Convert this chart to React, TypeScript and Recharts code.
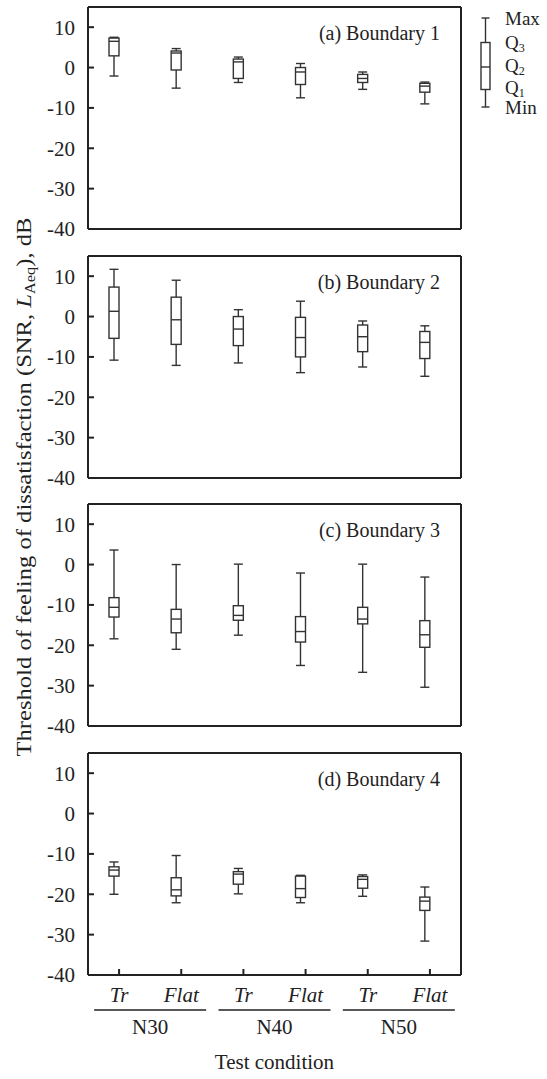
import { ComposedChart, Bar, XAxis, YAxis } from 'recharts'

const conditions = ['Tr', 'Flat', 'Tr', 'Flat', 'Tr', 'Flat']
const groups = ['N30', 'N30', 'N40', 'N40', 'N50', 'N50']
const yTicks = [-40, -30, -20, -10, 0, 10]

// each row: [min, Q1, Q2, Q3, max] in dB, one row per condition
const boundary1 = [
  [-2.1, 2.9, 6.5, 7.3, 7.5],
  [-5.1, -0.6, 3.6, 4.1, 4.7],
  [-3.7, -2.7, 1.4, 2.1, 2.6],
  [-7.5, -4.2, -1.1, 0, 1.0],
  [-5.4, -3.7, -2.7, -1.7, -1.1],
  [-9.0, -6.1, -4.6, -3.9, -3.6],
]
const boundary2 = [
  [-10.8, -5.4, 1.3, 7.3, 11.7],
  [-12.1, -6.9, -0.8, 4.8, 9.0],
  [-11.5, -7.2, -3.1, 0, 1.7],
  [-13.9, -10.0, -5.2, -0.2, 3.8],
  [-12.5, -8.7, -5.0, -2.1, -1.1],
  [-14.8, -10.4, -6.4, -3.7, -2.3],
]
const boundary3 = [
  [-18.4, -13.0, -10.6, -8.2, 3.6],
  [-21.0, -16.9, -13.5, -11.1, 0],
  [-17.5, -13.8, -12.6, -10.2, 0.1],
  [-25.0, -19.2, -16.6, -12.9, -2.1],
  [-26.7, -14.7, -13.5, -10.6, 0.1],
  [-30.4, -20.5, -17.4, -13.9, -3.1],
]
const boundary4 = [
  [-20.0, -15.5, -14.0, -13.2, -12.0],
  [-22.1, -20.4, -18.9, -15.9, -10.4],
  [-19.9, -17.5, -15.0, -14.4, -13.6],
  [-22.1, -20.8, -18.6, -15.5, -15.3],
  [-20.5, -18.5, -16.3, -15.6, -15.2],
  [-31.6, -24.0, -21.7, -20.7, -18.2],
]

const panels = [
  { label: '(a) Boundary 1', stats: boundary1, top: 7 },
  { label: '(b) Boundary 2', stats: boundary2, top: 255.5 },
  { label: '(c) Boundary 3', stats: boundary3, top: 504 },
  { label: '(d) Boundary 4', stats: boundary4, top: 752.5 },
]

const FONT = "'Liberation Serif', 'Times New Roman', serif"
const INK = '#222'
const PLOT_H = 222
const PLOT_LEFT = 88
const PLOT_RIGHT = 461

function BoxShape(props: any) {
  const { x, y, width, height, payload } = props
  const [lo, q1, med, q3, hi] = payload.stats
  const top = Math.min(y, y + height)
  const h = Math.abs(height)
  // bar spans [min, max]; place the quartiles on the same scale
  const py = (v: number) => top + ((hi - v) / (hi - lo)) * h
  const cx = x + width / 2 - 5
  return (
    <g stroke="#333" strokeWidth={1.4} fill="none">
      <line x1={cx} x2={cx} y1={py(hi)} y2={py(q3)} />
      <line x1={cx} x2={cx} y1={py(q1)} y2={py(lo)} />
      <line x1={cx - 4.5} x2={cx + 4.5} y1={py(hi)} y2={py(hi)} />
      <line x1={cx - 4.5} x2={cx + 4.5} y1={py(lo)} y2={py(lo)} />
      <rect x={cx - 5} y={py(q3)} width={10} height={Math.max(py(q1) - py(q3), 0.5)} fill="#fff" />
      <line x1={cx - 5} x2={cx + 5} y1={py(med)} y2={py(med)} />
    </g>
  )
}

const CondTick = ({ x, y, payload }: any) => (
  <text x={x} y={y + 27} textAnchor="middle" fontStyle="italic" fontSize={21} fontFamily={FONT} fill={INK}>
    {payload.value}
  </text>
)

const GroupTick = ({ x, y, payload }: any) => (
  <g>
    <line x1={x - 56} x2={x + 56} y1={y + 5} y2={y + 5} stroke={INK} strokeWidth={1.3} />
    <text x={x} y={y + 29} textAnchor="middle" fontSize={21} fontFamily={FONT} fill={INK}>
      {payload.value}
    </text>
  </g>
)

const axisStroke = { stroke: INK, strokeWidth: 2 }

function Panel({ stats, top, last }: { stats: number[][]; top: number; last: boolean }) {
  const data = conditions.map((c, i) => ({
    cond: c,
    group: groups[i],
    stats: stats[i],
    range: [stats[i][0], stats[i][4]],
  }))
  const height = 10 + PLOT_H + (last ? 90 : 20)
  return (
    <div style={{ position: 'absolute', left: 0, top: top - 10 }}>
      <ComposedChart
        width={547}
        height={height}
        data={data}
        margin={{ top: 9, right: 547 - PLOT_RIGHT - 1, bottom: last ? 0 : 19, left: 0 }}
      >
        <XAxis xAxisId="x3" orientation="top" dataKey="cond" height={1} tick={false} tickSize={-6} axisLine={axisStroke} tickLine={axisStroke} />
        <XAxis
          xAxisId="x1"
          dataKey="cond"
          height={last ? 30 : 1}
          tickSize={-6}
          tickMargin={6}
          axisLine={axisStroke}
          tickLine={axisStroke}
          tick={last ? <CondTick /> : false}
          interval={0}
        />
        {last && (
          <XAxis
            xAxisId="x2"
            dataKey="group"
            allowDuplicatedCategory={false}
            height={60}
            tickSize={0}
            tickMargin={0}
            axisLine={false}
            tickLine={false}
            tick={<GroupTick />}
            interval={0}
          />
        )}
        <YAxis
          yAxisId="left"
          type="number"
          domain={[-40, 15]}
          ticks={yTicks}
          allowDataOverflow
          width={PLOT_LEFT}
          tickSize={-6}
          tickMargin={19}
          axisLine={axisStroke}
          tickLine={axisStroke}
          tick={{ fill: INK, fontSize: 21, fontFamily: FONT }}
          interval={0}
        />
        <YAxis
          yAxisId="right"
          orientation="right"
          type="number"
          domain={[-40, 15]}
          ticks={yTicks}
          allowDataOverflow
          width={1}
          tickSize={-6}
          axisLine={axisStroke}
          tickLine={axisStroke}
          tick={false}
        />
        <Bar xAxisId="x1" yAxisId="left" dataKey="range" barSize={10} shape={BoxShape} isAnimationActive={false} />
      </ComposedChart>
    </div>
  )
}

function Overlay() {
  const lx = 485.5
  return (
    <svg width={547} height={1079} style={{ position: 'absolute', left: 0, top: 0, pointerEvents: 'none' }} fontFamily={FONT} fill={INK}>
      {panels.map((p) => (
        <text key={p.label} x={440} y={p.top + 33} textAnchor="end" fontSize={20}>
          {p.label}
        </text>
      ))}
      <text
        transform="translate(31, 487) rotate(-90)"
        textAnchor="middle"
        fontSize={21}
        textLength={539}
        lengthAdjust="spacingAndGlyphs"
      >
        Threshold of feeling of dissatisfaction (SNR, <tspan fontStyle="italic">L</tspan>
        <tspan fontSize={14} dy={4}>Aeq</tspan>
        <tspan dy={-4}>), dB</tspan>
      </text>
      <text x={(PLOT_LEFT + PLOT_RIGHT) / 2} y={1069} textAnchor="middle" fontSize={21}>
        Test condition
      </text>
      {/* legend glyph */}
      <g stroke="#333" strokeWidth={1.4} fill="none">
        <line x1={lx} x2={lx} y1={18} y2={42.5} />
        <line x1={lx} x2={lx} y1={89.5} y2={107} />
        <line x1={lx - 4} x2={lx + 4} y1={18} y2={18} />
        <line x1={lx - 4} x2={lx + 4} y1={107} y2={107} />
        <rect x={lx - 4.5} y={42.5} width={9} height={47} />
        <line x1={lx - 4.5} x2={lx + 4.5} y1={67} y2={67} />
      </g>
      <g fontSize={19}>
        <text x={505} y={25}>Max</text>
        <text x={505} y={49}>Q<tspan fontSize={12} dy={3}>3</tspan></text>
        <text x={505} y={72}>Q<tspan fontSize={12} dy={3}>2</tspan></text>
        <text x={505} y={94}>Q<tspan fontSize={12} dy={3}>1</tspan></text>
        <text x={505} y={114}>Min</text>
      </g>
    </svg>
  )
}

export default function App() {
  return (
    <div style={{ position: 'absolute', left: 0, top: 0, width: 547, height: 1079, background: '#fff' }}>
      {panels.map((p, i) => (
        <Panel key={p.label} stats={p.stats} top={p.top} last={i === panels.length - 1} />
      ))}
      <Overlay />
    </div>
  )
}
